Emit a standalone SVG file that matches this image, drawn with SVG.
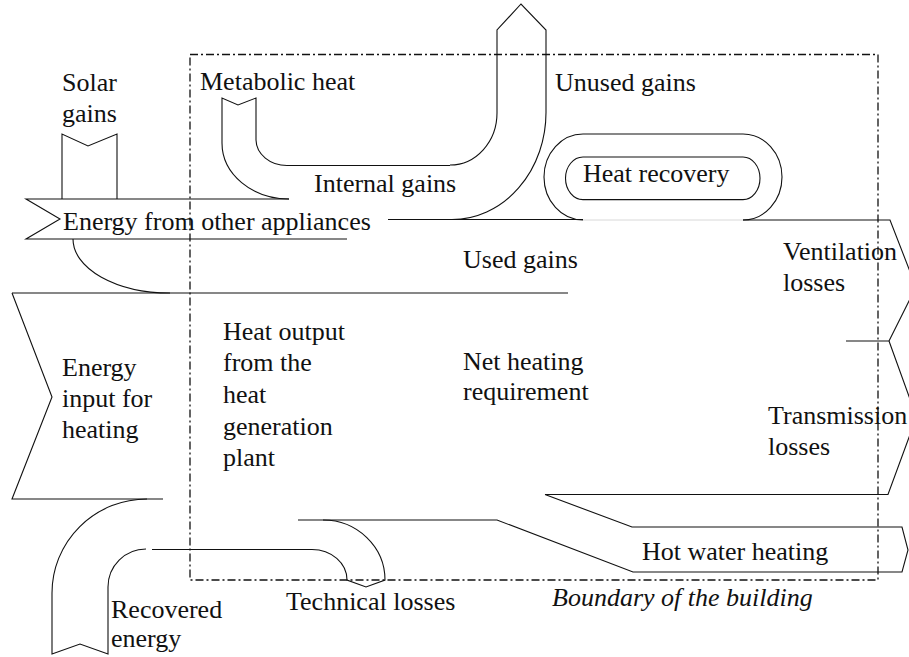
<svg xmlns="http://www.w3.org/2000/svg" width="909" height="657" viewBox="0 0 909 657">
<style>
.f{fill:none;stroke:#111;stroke-width:1.1;stroke-linejoin:miter}
.lt{fill:none;stroke:#d8d8d8;stroke-width:1}
.b{fill:none;stroke:#111;stroke-width:1.3;stroke-dasharray:8 3 2 3}
.t{font-family:'Liberation Serif','Times New Roman','DejaVu Serif',serif;font-size:26px;fill:#111}
.i{font-style:italic}
</style>
<rect width="909" height="657" fill="#fff"/>
<g class="t" font-family="Liberation Serif, Times New Roman, DejaVu Serif, serif" font-size="26">
<g id="boundary">
<rect class="b" x="190" y="54.5" width="688" height="525.5"/>
<text class="i" x="552" y="606">Boundary of the building</text>
</g>
<g id="flows">
<g id="solar-gains">
<path class="f" d="M62,199 V134 L88,146 L117,134 V199"/>
<text x="62" y="91">Solar</text>
<text x="62" y="122">gains</text>
</g>
<g id="metabolic-heat">
<path class="f" d="M222,143 V98 L238,105 L256,98 V140"/>
<path class="f" d="M256,140 A31,26 0 0 0 287,165.5 H450"/>
<path class="f" d="M222,143 A67,56 0 0 0 289,199"/>
<text x="200" y="90">Metabolic heat</text>
</g>
<g id="internal-gains">
<text x="314" y="192">Internal gains</text>
</g>
<g id="unused-gains">
<path class="f" d="M450,165 A47,52 0 0 0 497,113 V30 L521,4 L546,30 V112 A94,107 0 0 1 452,219.5"/>
<text x="555" y="91">Unused gains</text>
</g>
<g id="energy-other-appliances">
<path class="f" d="M289,199 H26 L60,219 L26,239 H347"/>
<path class="f" d="M73,239 A97,54 0 0 0 170,293"/>
<text x="63" y="230">Energy from other appliances</text>
</g>
<g id="heat-recovery">
<path class="f" d="M583,134 H743 A39,43 0 0 1 743,220"/>
<path class="f" d="M583,134 A39,43 0 0 0 583,220"/>
<path class="lt" d="M583,220 H743"/>
<path class="f" d="M583,157 H743 A17,21.3 0 0 1 743,199.6 H583 A17.5,21.3 0 0 1 583,157 Z"/>
<text x="583" y="182">Heat recovery</text>
</g>
<g id="used-gains">
<path class="f" d="M388,219.5 H583"/>
<text x="463" y="268">Used gains</text>
</g>
<g id="ventilation-losses">
<path class="f" d="M743,220 H890 L916,287 L889,341"/>
<path class="f" d="M846,341 H889"/>
<text x="783" y="260">Ventilation</text>
<text x="783" y="291">losses</text>
</g>
<g id="transmission-losses">
<path class="f" d="M889,341 L916.5,417 L888,494.5 H545"/>
<text x="768" y="424">Transmission</text>
<text x="768" y="455">losses</text>
</g>
<g id="hot-water-heating">
<path class="f" d="M545,494.5 L632,527 H902 L908,550 L902,572 H633 L497,520 H298"/>
<text x="642" y="560">Hot water heating</text>
</g>
<g id="energy-input">
<path class="f" d="M12,293 H568"/>
<path class="f" d="M12,293 L52,397 L12,499 H163"/>
<text x="62" y="376">Energy</text>
<text x="62" y="407">input for</text>
<text x="62" y="438">heating</text>
</g>
<g id="heat-output">
<text x="223" y="340">Heat output</text>
<text x="223" y="371">from the</text>
<text x="223" y="403">heat</text>
<text x="223" y="435">generation</text>
<text x="223" y="466">plant</text>
</g>
<g id="net-heating">
<text x="463" y="370">Net heating</text>
<text x="463" y="400">requirement</text>
</g>
<g id="recovered-energy">
<path class="f" d="M147,499 A95,94 0 0 0 52,593 V654 L80,644 L108,654 V587 A38,38 0 0 1 146,549"/>
<path class="f" d="M152,549.5 H312"/>
<text x="111" y="618">Recovered</text>
<text x="111" y="647">energy</text>
</g>
<g id="technical-losses">
<path class="f" d="M312,549.5 A35,30.5 0 0 1 347,580 L366,587 L385,580 A62,60 0 0 0 323,520"/>
<text x="286" y="610">Technical losses</text>
</g>
</g>
</g>
</svg>
